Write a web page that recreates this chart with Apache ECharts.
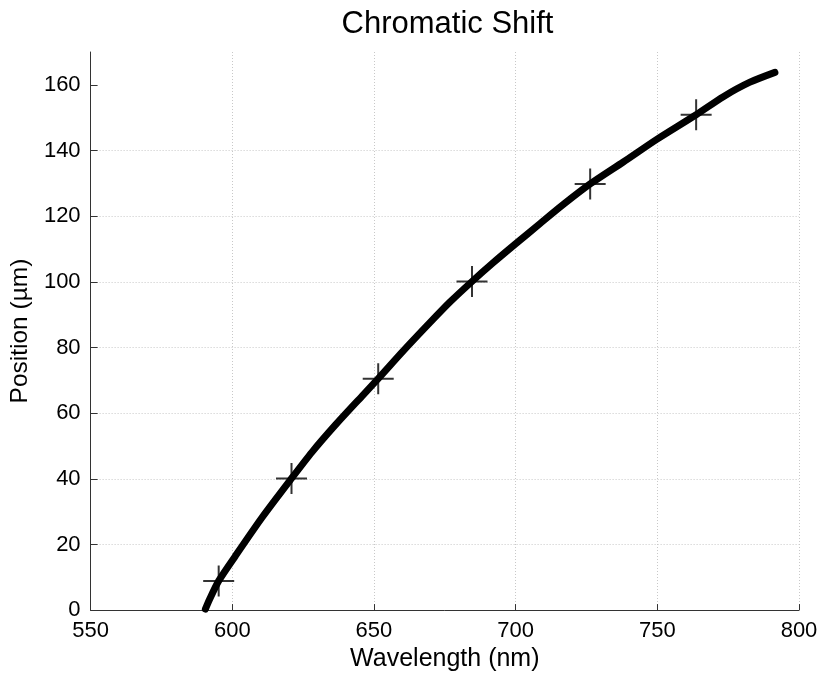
<!DOCTYPE html>
<html>
<head>
<meta charset="utf-8">
<script src="https://cdn.jsdelivr.net/npm/echarts@6/dist/echarts.min.js"></script>
<style>
  html, body { margin: 0; padding: 0; background: #fff; }
  #chart { width: 824px; height: 677px; }
</style>
</head>
<body>
<div id="chart"></div>
<script>
// Measured focal position versus wavelength (continuous trace)
const traceWavelength = [590.5, 592.0, 595.2, 601.1, 610.5, 620.9, 628.2, 636.4, 645.8, 651.5,
  660.5, 669.9, 676.9, 684.6, 692.2, 699.9, 708.7, 716.9, 726.3, 738.0,
  749.8, 763.7, 773.3, 782.7, 791.5];
const tracePosition = [0.3, 3.3, 8.9, 16.5, 28.2, 40.1, 48.2, 56.4, 65.2, 70.5,
  79.1, 87.7, 93.9, 100.1, 105.9, 111.5, 117.8, 123.6, 129.8, 136.5,
  143.4, 150.9, 156.4, 160.8, 163.8];

// Calibration points marked with crosses
const markWavelength = [595.2, 620.9, 651.5, 684.6, 726.3, 763.7];
const markPosition = [8.9, 40.1, 70.5, 100.1, 129.8, 150.9];

// Axis ticks
const xTicks = [550, 600, 650, 700, 750, 800];
const yTicks = [0, 20, 40, 60, 80, 100, 120, 140, 160];

const font = '"Liberation Sans", Arial, sans-serif';

const chart = echarts.init(document.getElementById('chart'));
chart.setOption({
  animation: false,
  backgroundColor: '#fff',
  title: {
    text: 'Chromatic Shift',
    left: 442.5,
    textAlign: 'center',
    top: 4,
    textStyle: { fontFamily: font, fontSize: 31, fontWeight: 'normal', color: '#000' }
  },
  grid: { left: 90, right: 25, top: 52, bottom: 66 },
  xAxis: {
    type: 'value',
    min: 550, max: 800, interval: 50,
    name: 'Wavelength (nm)',
    nameLocation: 'middle',
    nameGap: 35,
    nameTextStyle: { fontFamily: font, fontSize: 25, color: '#000' },
    axisLine: { show: true, onZero: false, lineStyle: { color: '#333', width: 1 } },
    axisTick: { show: true, inside: true, length: 6, lineStyle: { color: '#333' }, customValues: xTicks },
    axisLabel: { fontFamily: font, fontSize: 22, color: '#000', margin: 10, customValues: xTicks },
    splitLine: { show: true, showMinLine: false, lineStyle: { color: '#c8c8c8', type: [1, 2], width: 1 } }
  },
  yAxis: {
    type: 'value',
    min: 0, max: 170, interval: 20,
    name: 'Position (µm)',
    nameLocation: 'middle',
    nameGap: 53,
    nameTextStyle: { fontFamily: font, fontSize: 24.5, color: '#000' },
    axisLine: { show: true, onZero: false, lineStyle: { color: '#333', width: 1 } },
    axisTick: { show: true, inside: true, length: 7, lineStyle: { color: '#333' }, customValues: yTicks },
    axisLabel: { fontFamily: font, fontSize: 22, color: '#000', margin: 10, customValues: yTicks },
    splitLine: { show: true, showMinLine: false, showMaxLine: false, lineStyle: { color: '#c8c8c8', type: [1, 2], width: 1 } }
  },
  series: [
    {
      type: 'line',
      data: traceWavelength.map((x, i) => [x, tracePosition[i]]),
      showSymbol: false,
      smooth: 0.25,
      lineStyle: { color: '#000', width: 7, cap: 'round', join: 'round' },
      z: 3
    },
    {
      type: 'scatter',
      data: markWavelength.map((x, i) => [x, markPosition[i]]),
      symbol: 'path://M0,-10L0,10M-10,0L10,0',
      symbolSize: 31,
      itemStyle: { color: 'none', borderColor: '#000', borderWidth: 2 },
      z: 4
    }
  ]
});
</script>
</body>
</html>
